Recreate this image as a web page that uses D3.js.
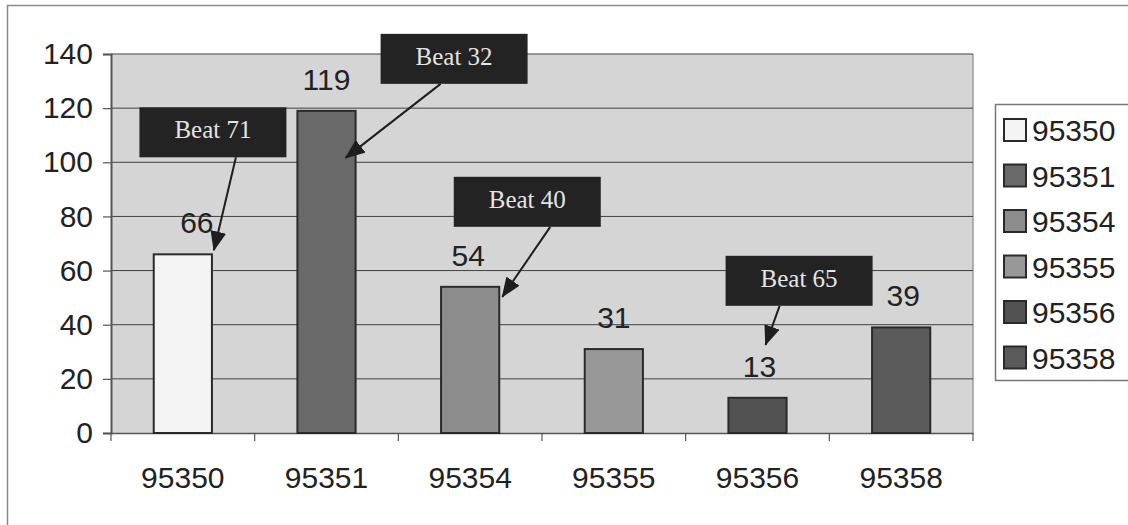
<!DOCTYPE html>
<html>
<head>
<meta charset="utf-8">
<script src="https://cdn.jsdelivr.net/npm/d3@7"></script>
<style>
  html, body { margin: 0; padding: 0; background: #fff; }
  svg { display: block; }
</style>
</head>
<body>
<svg id="chart" width="1128" height="525"></svg>
<script>
// ZIP codes and counts
const categories = ["95350", "95351", "95354", "95355", "95356", "95358"];
const values = [66, 119, 54, 31, 13, 39];
const colors = ["#f4f4f4", "#696969", "#8c8c8c", "#989898", "#525252", "#5a5a5a"];
const yTicks = [0, 20, 40, 60, 80, 100, 120, 140];

// Callout boxes pointing at bars: text, category, box offset and arrow geometry
// relative to the bar's top-right corner
const beatLabels = ["Beat 71", "Beat 32", "Beat 40", "Beat 65"];
const beatCategories = ["95350", "95351", "95354", "95356"];
const beatLayout = [
  { bx: 1,    by: -147, sx: 23,    tx: 2,   ty: -4 },
  { bx: 98.5, by: -77,  sx: -13.5, tx: -10, ty: 47 },
  { bx: 28,   by: -110, sx: 23,    tx: 3,   ty: 10 },
  { bx: 12.5, by: -142, sx: -19.5, tx: -21, ty: -53 }
];

const svg = d3.select("#chart");
const plot = { left: 111, right: 973, top: 54, bottom: 433 };

const x = d3.scaleBand().domain(categories).range([plot.left, plot.right]);
const y = d3.scaleLinear().domain([0, 140]).range([plot.bottom, plot.top]);
const barW = x.bandwidth() * 0.405;

const font = "'Liberation Sans', Arial, sans-serif";

// outer chart frame
svg.append("rect")
  .attr("x", 7.5).attr("y", 5.5)
  .attr("width", 1140).attr("height", 540)
  .attr("fill", "#fff").attr("stroke", "#8a8a8a").attr("stroke-width", 1.5);

svg.append("defs").append("marker")
  .attr("id", "arrow")
  .attr("viewBox", "0 0 20 16")
  .attr("refX", 19).attr("refY", 8)
  .attr("markerWidth", 20).attr("markerHeight", 16)
  .attr("markerUnits", "userSpaceOnUse")
  .attr("orient", "auto")
  .append("path").attr("d", "M0,0 L20,8 L0,16 Z").attr("fill", "#1e1e1e");

// plot area background
svg.append("rect")
  .attr("x", plot.left).attr("y", plot.top)
  .attr("width", plot.right - plot.left).attr("height", plot.bottom - plot.top)
  .attr("fill", "#d5d5d5");
svg.append("line")
  .attr("x1", plot.right).attr("x2", plot.right)
  .attr("y1", plot.top).attr("y2", plot.bottom)
  .attr("stroke", "#9a9a9a").attr("stroke-width", 1.5);

// horizontal gridlines
svg.append("g")
  .selectAll("line")
  .data(yTicks.filter(d => d > 0))
  .join("line")
  .attr("x1", plot.left).attr("x2", plot.right)
  .attr("y1", d => y(d)).attr("y2", d => y(d))
  .attr("stroke", "#404040").attr("stroke-width", 1);

// y axis
const yAxis = svg.append("g")
  .attr("transform", `translate(${plot.left},0)`)
  .call(d3.axisLeft(y).tickValues(yTicks).tickSize(8).tickPadding(10));
yAxis.select(".domain").attr("stroke", "#555").attr("stroke-width", 2);
yAxis.selectAll(".tick line").attr("stroke", "#555").attr("stroke-width", 1.2);
yAxis.selectAll(".tick text")
  .attr("font-family", font).attr("font-size", 30).attr("fill", "#222");

// x axis
const xAxis = svg.append("g")
  .attr("transform", `translate(0,${plot.bottom})`)
  .call(d3.axisBottom(x).tickSize(0).tickPadding(34));
xAxis.select(".domain").attr("stroke", "#555").attr("stroke-width", 1.5);
xAxis.selectAll(".tick text")
  .attr("font-family", font).attr("font-size", 30).attr("fill", "#222");
// category dividers
svg.append("g")
  .selectAll("line")
  .data(categories.map(c => x(c)).concat([plot.right]))
  .join("line")
  .attr("x1", d => d).attr("x2", d => d)
  .attr("y1", plot.bottom).attr("y2", plot.bottom + 8)
  .attr("stroke", "#555").attr("stroke-width", 1.2);

// bars
const cx = c => x(c) + x.bandwidth() / 2;
svg.append("g")
  .selectAll("rect")
  .data(values)
  .join("rect")
  .attr("x", (d, i) => cx(categories[i]) - barW / 2)
  .attr("y", d => y(d))
  .attr("width", barW)
  .attr("height", d => plot.bottom - y(d))
  .attr("fill", (d, i) => colors[i])
  .attr("stroke", "#2a2a2a").attr("stroke-width", 2);

// value labels
const labelShift = [14, 0, -2, 0, 2, 2];
svg.append("g")
  .selectAll("text")
  .data(values)
  .join("text")
  .attr("x", (d, i) => cx(categories[i]) + labelShift[i])
  .attr("y", d => y(d) - 21)
  .attr("text-anchor", "middle")
  .attr("font-family", font).attr("font-size", 30).attr("fill", "#222")
  .text(d => d);

// callouts
const boxW = 147, boxH = 50;
const callouts = svg.append("g");
beatLabels.forEach((label, i) => {
  const c = beatCategories[i];
  const v = values[categories.indexOf(c)];
  const ax = cx(c) + barW / 2, ay = y(v);
  const L = beatLayout[i];
  const bcx = ax + L.bx, btop = ay + L.by;
  callouts.append("rect")
    .attr("x", bcx - boxW / 2).attr("y", btop)
    .attr("width", boxW).attr("height", boxH)
    .attr("fill", "#232323");
  callouts.append("text")
    .attr("x", bcx).attr("y", btop + boxH / 2 + 6)
    .attr("text-anchor", "middle")
    .attr("font-family", "'Liberation Serif', 'Times New Roman', serif")
    .attr("font-size", 25).attr("fill", "#e4e4e4")
    .text(label);
  callouts.append("line")
    .attr("x1", bcx + L.sx).attr("y1", btop + boxH)
    .attr("x2", ax + L.tx).attr("y2", ay + L.ty)
    .attr("stroke", "#1e1e1e").attr("stroke-width", 2)
    .attr("marker-end", "url(#arrow)");
});

// legend
const legend = svg.append("g");
legend.append("rect")
  .attr("x", 995.5).attr("y", 104.5)
  .attr("width", 200).attr("height", 276)
  .attr("fill", "#fff").attr("stroke", "#777").attr("stroke-width", 1.5);
const rows = legend.selectAll("g.row")
  .data(categories)
  .join("g")
  .attr("class", "row")
  .attr("transform", (d, i) => `translate(1004,${130 + i * 45.5})`);
rows.append("rect")
  .attr("x", 0).attr("y", -11)
  .attr("width", 22).attr("height", 22)
  .attr("fill", (d, i) => colors[i])
  .attr("stroke", "#2a2a2a").attr("stroke-width", 2);
rows.append("text")
  .attr("x", 28).attr("y", 11)
  .attr("font-family", font).attr("font-size", 30).attr("fill", "#222")
  .text(d => d);
</script>
</body>
</html>
